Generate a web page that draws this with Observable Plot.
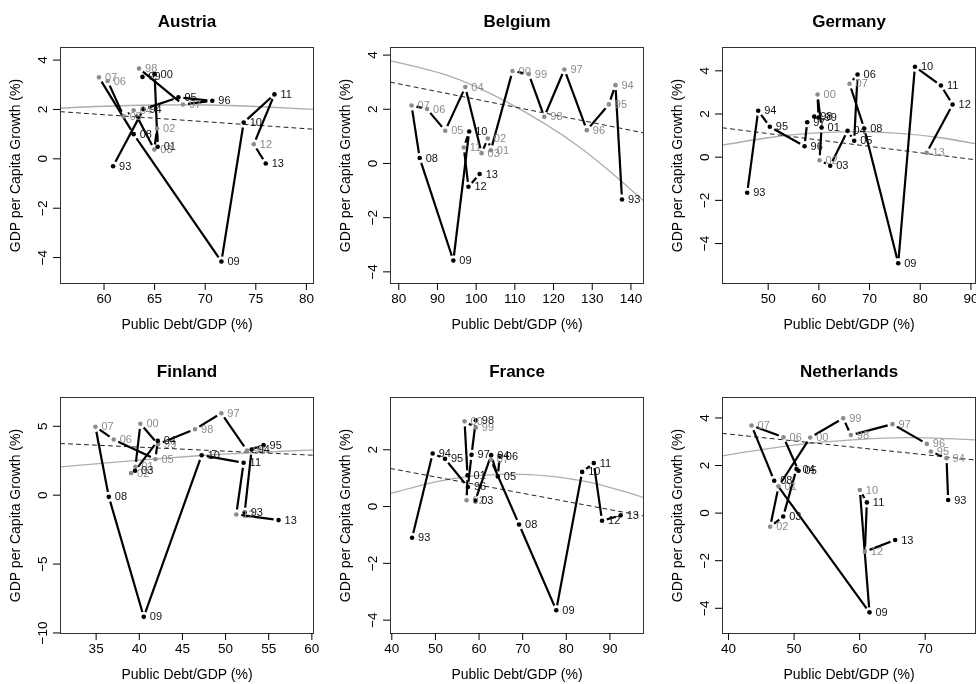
<!DOCTYPE html>
<html><head><meta charset="utf-8">
<script src="https://cdn.jsdelivr.net/npm/d3@7"></script>
<script src="https://cdn.jsdelivr.net/npm/@observablehq/plot@0.6"></script>
<style>
html,body{margin:0;padding:0;background:#fff;width:976px;height:684px;overflow:hidden;}
.panel{position:absolute;will-change:transform;}
.panel svg text{-webkit-font-smoothing:antialiased;}
</style></head><body>
<div id="root"></div>
<script>
// Year labels 1993..2013
const years = ["93","94","95","96","97","98","99","00","01","02","03","04","05","06","07","08","09","10","11","12","13"];

// Austria
const austriaDebt   = [60.9, 63.9, 67.35, 70.7, 67.8, 63.46, 63.8, 65.0, 65.3, 65.24, 64.97, 62.93, 61.94, 60.36, 59.5, 62.93, 71.6, 73.8, 76.84, 74.8, 75.98];
const austriaGrowth = [-0.30, 2.01, 2.49, 2.35, 2.20, 3.66, 3.32, 3.43, 0.49, 1.23, 0.38, 1.97, 1.72, 3.15, 3.30, 1.00, -4.16, 1.47, 2.61, 0.59, -0.19];
const austriaGray   = [0,0,0,0,1,1,0,0,0,1,1,1,1,1,1,0,0,0,0,1,0];
const austriaLinX = [55.7, 80.7], austriaLinY = [1.91, 1.20];
const austriaQuadX = [55.7, 60, 65, 70, 75, 80.7], austriaQuadY = [2.05, 2.13, 2.18, 2.18, 2.12, 2.0];

// Belgium
const belgiumDebt   = [137.7, 136.0, 134.3, 128.6, 122.8, 117.6, 113.6, 109.4, 103.8, 103.0, 101.4, 97.2, 92.0, 87.3, 83.3, 85.4, 94.1, 98.2, 96.8, 98.0, 100.9];
const belgiumGrowth = [-1.33, 2.89, 2.18, 1.23, 3.47, 1.72, 3.30, 3.41, 0.49, 0.92, 0.38, 2.82, 1.21, 2.01, 2.14, 0.20, -3.58, 1.18, 0.59, -0.86, -0.39];
const belgiumGray   = [0,1,1,1,1,1,1,1,1,1,1,1,1,1,1,0,0,0,1,0,0];
const belgiumLinX = [77.86, 143.25], belgiumLinY = [3.0, 1.13];
const belgiumQuadX = [77.86, 92.39, 107.78, 126.58, 143.25], belgiumQuadY = [3.79, 3.26, 2.28, 0.62, -1.38];

// Germany
const germanyDebt   = [45.86, 48.03, 50.33, 57.17, 57.7, 59.08, 59.93, 59.74, 60.53, 60.13, 62.24, 65.66, 66.97, 67.63, 66.05, 68.95, 75.66, 78.95, 84.08, 86.38, 81.25];
const germanyGrowth = [-1.65, 2.15, 1.41, 0.51, 1.62, 1.88, 1.84, 2.90, 1.37, -0.14, -0.40, 1.22, 0.76, 3.83, 3.40, 1.33, -4.91, 4.19, 3.32, 2.44, 0.20];
const germanyGray   = [0,0,0,0,0,0,0,1,0,1,0,0,0,0,1,0,0,0,0,0,1];
const germanyLinX = [40.99, 90.9], germanyLinY = [1.36, -0.12];
const germanyQuadX = [40.99, 50, 58, 67, 76, 84, 90.9], germanyQuadY = [0.56, 0.9, 1.1, 1.18, 1.1, 0.9, 0.62];

// Finland
const finlandDebt   = [52.21, 53.02, 54.4, 52.48, 49.51, 46.46, 42.18, 40.13, 39.55, 39.05, 39.51, 42.14, 41.87, 37.04, 34.92, 36.47, 40.52, 47.23, 52.09, 51.24, 56.14];
const finlandGrowth = [-1.26, 3.31, 3.63, 3.24, 5.95, 4.79, 3.70, 5.18, 2.06, 1.60, 1.77, 3.94, 2.61, 4.04, 4.96, -0.12, -8.83, 2.90, 2.35, -1.40, -1.81];
const finlandGray   = [0,0,0,1,1,1,1,1,1,1,0,0,1,1,1,0,0,0,0,1,0];
const finlandLinX = [30.87, 60.19], finlandLinY = [3.75, 2.90];
const finlandQuadX = [30.87, 40, 47.2, 53, 60.19], finlandQuadY = [2.06, 2.55, 2.88, 3.08, 3.29];

// France
const franceDebt   = [44.65, 49.37, 52.19, 57.44, 58.28, 59.27, 59.27, 56.68, 57.36, 57.14, 59.12, 62.77, 64.30, 64.75, 62.7, 69.17, 77.7, 83.64, 86.3, 88.2, 92.47];
const franceGrowth = [-1.10, 1.87, 1.68, 0.69, 1.82, 3.04, 2.78, 3.00, 1.10, 0.22, 0.21, 1.81, 1.06, 1.78, 1.65, -0.63, -3.65, 1.22, 1.53, -0.50, -0.31];
const franceGray   = [0,0,0,0,0,0,1,1,0,1,0,0,0,0,1,0,0,0,0,0,0];
const franceLinX = [39.7, 97.7], franceLinY = [1.34, -0.33];
const franceQuadX = [39.7, 50, 58, 67, 76, 86, 97.7], franceQuadY = [0.46, 0.87, 1.06, 1.14, 1.07, 0.83, 0.32];

// Netherlands
const netherlandsDebt   = [73.5, 73.25, 70.86, 70.25, 65.01, 58.66, 57.49, 52.46, 47.63, 46.35, 48.34, 50.37, 50.68, 48.39, 43.51, 46.97, 61.5, 60.03, 61.10, 60.79, 65.42];
const netherlandsGrowth = [0.55, 2.31, 2.59, 2.91, 3.74, 3.28, 3.99, 3.18, 1.12, -0.57, -0.14, 1.85, 1.78, 3.19, 3.68, 1.36, -4.17, 0.97, 0.45, -1.62, -1.13];
const netherlandsGray   = [0,1,1,1,1,1,1,1,1,1,0,0,0,1,1,0,0,1,0,1,0];
const netherlandsLinX = [39.08, 77.67], netherlandsLinY = [3.35, 2.23];
const netherlandsQuadX = [39.08, 45, 52, 60, 68, 77.67], netherlandsQuadY = [2.41, 2.67, 2.92, 3.1, 3.17, 3.08];

const xLabel = "Public Debt/GDP (%)";
const yLabel = "GDP per Capita Growth (%)";
const GRAY = "#8c8c8c";

const panels = [
  {name:"Austria", debt:austriaDebt, growth:austriaGrowth, gray:austriaGray, linX:austriaLinX, linY:austriaLinY, quadX:austriaQuadX, quadY:austriaQuadY,
   xDomain:[55.7,80.7], yDomain:[-5.05,4.51], xTicks:[60,65,70,75,80], yTicks:[-4,-2,0,2,4]},
  {name:"Belgium", debt:belgiumDebt, growth:belgiumGrowth, gray:belgiumGray, linX:belgiumLinX, linY:belgiumLinY, quadX:belgiumQuadX, quadY:belgiumQuadY,
   xDomain:[77.86,143.25], yDomain:[-4.43,4.28], xTicks:[80,90,100,110,120,130,140], yTicks:[-4,-2,0,2,4]},
  {name:"Germany", debt:germanyDebt, growth:germanyGrowth, gray:germanyGray, linX:germanyLinX, linY:germanyLinY, quadX:germanyQuadX, quadY:germanyQuadY,
   xDomain:[40.99,90.9], yDomain:[-5.85,5.08], xTicks:[50,60,70,80,90], yTicks:[-4,-2,0,2,4]},
  {name:"Finland", debt:finlandDebt, growth:finlandGrowth, gray:finlandGray, linX:finlandLinX, linY:finlandLinY, quadX:finlandQuadX, quadY:finlandQuadY,
   xDomain:[30.87,60.19], yDomain:[-10.04,7.09], xTicks:[35,40,45,50,55,60], yTicks:[-10,-5,0,5]},
  {name:"France", debt:franceDebt, growth:franceGrowth, gray:franceGray, linX:franceLinX, linY:franceLinY, quadX:franceQuadX, quadY:franceQuadY,
   xDomain:[39.7,97.7], yDomain:[-4.47,3.84], xTicks:[40,50,60,70,80,90], yTicks:[-4,-2,0,2]},
  {name:"Netherlands", debt:netherlandsDebt, growth:netherlandsGrowth, gray:netherlandsGray, linX:netherlandsLinX, linY:netherlandsLinY, quadX:netherlandsQuadX, quadY:netherlandsQuadY,
   xDomain:[39.08,77.67], yDomain:[-5.06,4.86], xTicks:[40,50,60,70], yTicks:[-4,-2,0,2,4]}
];

const colLefts = [0, 330, 662];
const rowTops = [0, 350];
const rowHeights = [340, 334];
const root = document.getElementById("root");

panels.forEach((p, k) => {
  const col = k % 3, row = Math.floor(k / 3);
  const H = rowHeights[row];
  const pts = years.map((yr, i) => ({lab: yr, x: p.debt[i], y: p.growth[i], gray: p.gray[i] === 1}));
  const segs = d3.pairs(pts).map(([a, b]) => ({x1: a.x, y1: a.y, x2: b.x, y2: b.y}));
  const quad = p.quadX.map((x, i) => ({x, y: p.quadY[i]}));
  const lin = p.linX.map((x, i) => ({x, y: p.linY[i]}));
  const blackPts = pts.filter(d => !d.gray), grayPts = pts.filter(d => d.gray);
  const chart = Plot.plot({
    width: 330, height: H,
    marginLeft: 60, marginRight: 17, marginTop: 47, marginBottom: H - 47 - 236,
    style: "font-family: 'Liberation Sans', Arial, Helvetica, sans-serif; font-size: 13.5px; color: black; background: white; overflow: visible;",
    x: {domain: p.xDomain, label: null},
    y: {domain: p.yDomain, label: null},
    marks: [
      Plot.line(quad, {x: "x", y: "y", stroke: "#adadad", strokeWidth: 1.3, curve: "natural", clip: true}),
      Plot.line(lin, {x: "x", y: "y", stroke: "#222", strokeWidth: 1, strokeDasharray: "4,4", clip: true}),
      Plot.arrow(segs, {x1: "x1", y1: "y1", x2: "x2", y2: "y2", headLength: 0, inset: 5, stroke: "black", strokeWidth: 2.2, strokeLinecap: "butt"}),
      Plot.dot(grayPts, {x: "x", y: "y", r: 2.3, fill: GRAY, stroke: null}),
      Plot.dot(blackPts, {x: "x", y: "y", r: 2.3, fill: "black", stroke: null}),
      Plot.text(grayPts, {x: "x", y: "y", text: "lab", dx: 6, textAnchor: "start", fill: GRAY, fontSize: 11}),
      Plot.text(blackPts, {x: "x", y: "y", text: "lab", dx: 6, textAnchor: "start", fill: "#111", fontSize: 11}),
      Plot.frame({stroke: "#333", strokeWidth: 1}),
      Plot.axisX(p.xTicks, {tickSize: 7, tickPadding: 3, label: null}),
      Plot.axisY(p.yTicks, {tickSize: 7, tickPadding: 7, tickRotate: -90, label: null}),
      Plot.text([p.name], {text: d => d, frameAnchor: "top", dy: -26, fontSize: 17, fontWeight: "bold", lineAnchor: "middle"}),
      Plot.text([xLabel], {text: d => d, frameAnchor: "bottom", dy: 41, fontSize: 14, lineAnchor: "middle"}),
      Plot.text([yLabel], {text: d => d, frameAnchor: "left", dx: -45, rotate: -90, fontSize: 14, textAnchor: "middle", lineAnchor: "middle"})
    ]
  });
  const div = document.createElement("div");
  div.className = "panel";
  div.style.left = colLefts[col] + "px";
  div.style.top = rowTops[row] + "px";
  div.style.width = "330px";
  div.appendChild(chart);
  chart.style.maxWidth = "none";
  root.appendChild(div);
});
</script>
</body></html>
